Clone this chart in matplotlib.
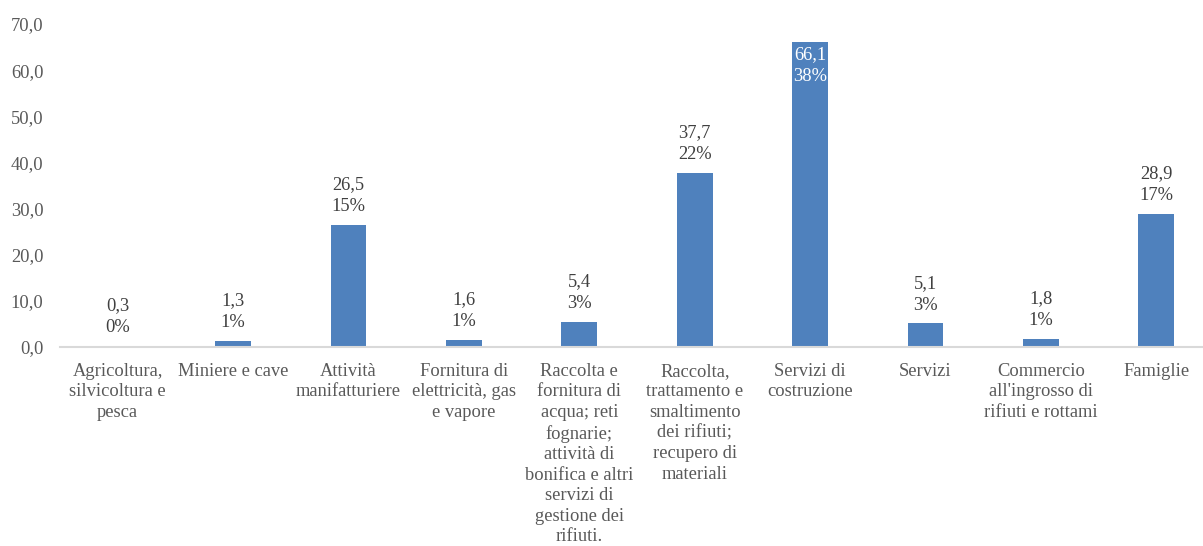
import matplotlib
matplotlib.use("Agg")
import matplotlib.pyplot as plt
import numpy as np

categories = [
    "Agricoltura,\nsilvicoltura e\npesca",
    "Miniere e cave",
    "Attività\nmanifatturiere",
    "Fornitura di\nelettricità, gas\ne vapore",
    "Raccolta e\nfornitura di\nacqua; reti\nfognarie;\nattività di\nbonifica e altri\nservizi di\ngestione dei\nrifiuti.",
    "Raccolta,\ntrattamento e\nsmaltimento\ndei rifiuti;\nrecupero di\nmateriali",
    "Servizi di\ncostruzione",
    "Servizi",
    "Commercio\nall'ingrosso di\nrifiuti e rottami",
    "Famiglie",
]
values = [0.3, 1.3, 26.5, 1.6, 5.4, 37.7, 66.1, 5.1, 1.8, 28.9]
shares = [0, 1, 15, 1, 3, 22, 38, 3, 1, 17]
yticks = [0, 10, 20, 30, 40, 50, 60, 70]

plt.rcParams["font.family"] = ["Liberation Serif", "DejaVu Serif"]
FS = 13.3

W, H = 1203, 546
fig = plt.figure(figsize=(W / 100, H / 100), dpi=100)
left, right = 60 / W, 1214 / W
bottom, top = (H - 347) / H, (H - 24) / H
ax = fig.add_axes([left, bottom, right - left, top - bottom])

x = np.arange(len(values))
bar_color = "#4F81BD"
ax.bar(x, values, width=0.31, color=bar_color, zorder=2)

ax.set_xlim(-0.5, len(values) - 0.5)
ax.set_ylim(0, 70)
ax.set_yticks(yticks)
ax.set_yticklabels([f"{v:.1f}".replace(".", ",") for v in yticks],
                   fontsize=FS, color="#595959")
ax.set_xticks(x)
ax.set_xticklabels(categories, fontsize=FS, color="#595959",
                   linespacing=1.27, va="top")
ax.tick_params(axis="both", length=0)
ax.tick_params(axis="y", pad=12)
ax.tick_params(axis="x", pad=11.5)

for side in ("left", "right", "top"):
    ax.spines[side].set_visible(False)
ax.spines["bottom"].set_color("#D9D9D9")
ax.spines["bottom"].set_linewidth(1.5)
ax.spines["bottom"].set_zorder(3)

for xi, v, s in zip(x, values, shares):
    label = f"{v:.1f}".replace(".", ",") + f"\n{s}%"
    if v > 60:
        ax.annotate(label, (xi, v), xytext=(0, -3), textcoords="offset points",
                    ha="center", va="top", fontsize=FS, color="white",
                    linespacing=1.4)
    else:
        ax.annotate(label, (xi, v), xytext=(0, 7), textcoords="offset points",
                    ha="center", va="bottom", fontsize=FS, color="#404040",
                    linespacing=1.38)

fig.savefig("out.png", dpi=100)
